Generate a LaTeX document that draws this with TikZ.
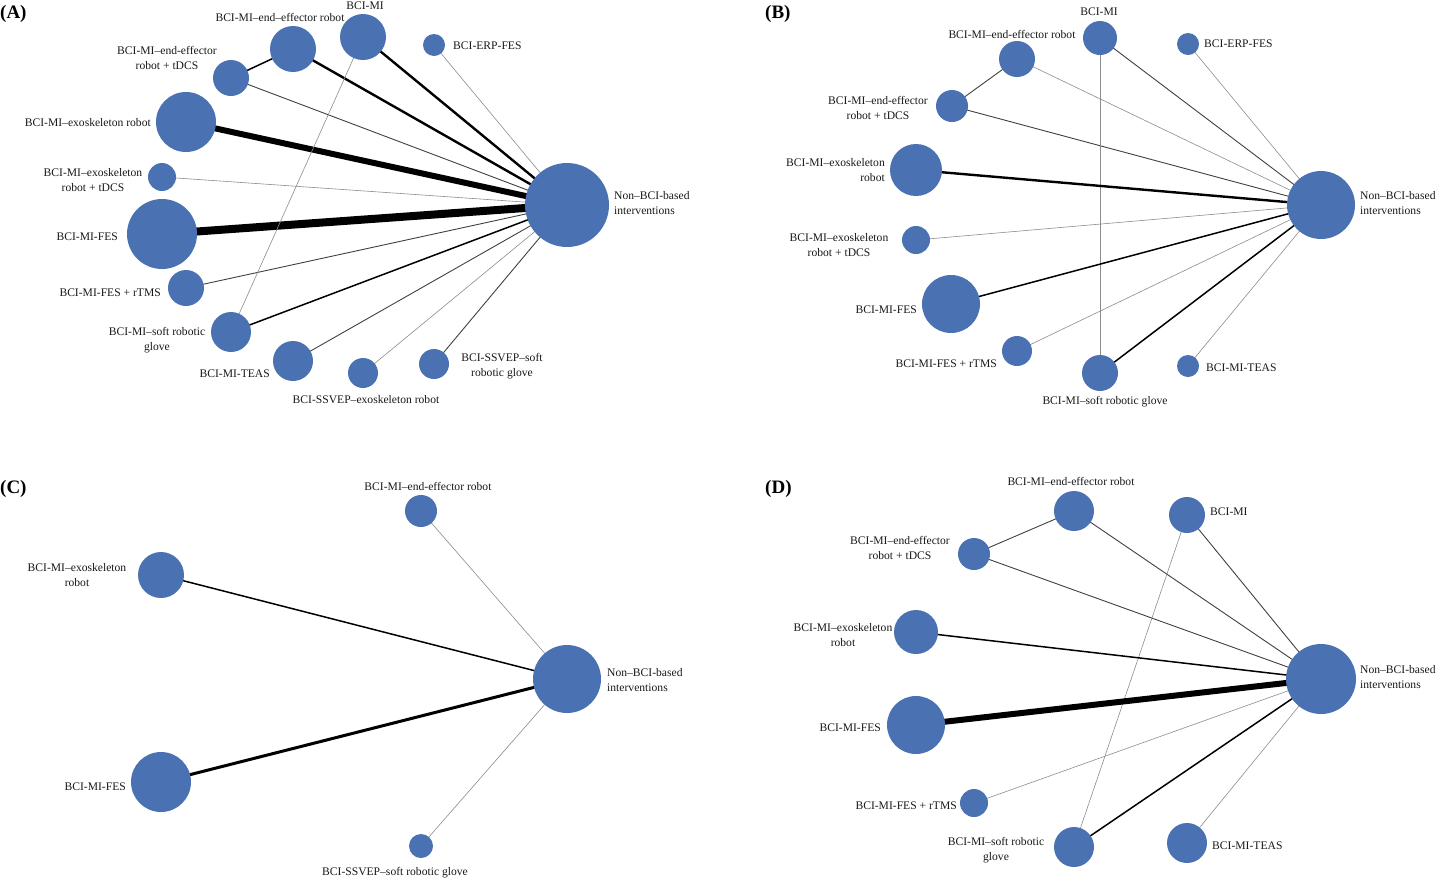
\documentclass[tikz,border=0pt]{standalone}
\usepackage{fontspec}
\setmainfont{Liberation Serif}
\usetikzlibrary{backgrounds}
\definecolor{nodeblue}{HTML}{4A72B2}
\tikzset{
  pt/.style={circle,fill=nodeblue,draw=none,inner sep=0pt},
  lbl/.style={inner sep=0pt,align=center,text=black!90,font=\fontsize{11.6}{14.5}\selectfont},
  panel/.style={inner sep=0pt,anchor=west,font=\fontsize{19}{22}\selectfont\bfseries},
  e0/.style={draw=black!45,line width=0.6pt},
  e1/.style={draw=black!75,line width=0.9pt},
  e2/.style={draw=black,line width=1.5pt},
  e3/.style={draw=black,line width=2.4pt},
  e4/.style={draw=black,line width=6pt},
  e5/.style={draw=black,line width=8pt}
}
\begin{document}
\begin{tikzpicture}[x=1pt,y=-1pt]
  \useasboundingbox (0,0) rectangle (1440,879);
  % panel A
  \node[panel] (pa) at (0,14) {(A)};
  \node[pt,minimum size=84pt] (aNB) at (567,205) {};
  \node[pt,minimum size=46pt] (aMI) at (363,37) {};
  \node[pt,minimum size=46pt] (aEE) at (293,49) {};
  \node[pt,minimum size=36pt] (aEET) at (231,78) {};
  \node[pt,minimum size=60pt] (aEXO) at (186,122) {};
  \node[pt,minimum size=28pt] (aEXOT) at (162,177) {};
  \node[pt,minimum size=70pt] (aFES) at (162,234) {};
  \node[pt,minimum size=36pt] (aFESR) at (186,288) {};
  \node[pt,minimum size=40pt] (aSRG) at (231,332) {};
  \node[pt,minimum size=40pt] (aTEAS) at (293,361) {};
  \node[pt,minimum size=30pt] (aSSEXO) at (363,373) {};
  \node[pt,minimum size=30pt] (aSSRG) at (434,364) {};
  \node[pt,minimum size=22pt] (aERP) at (434,45) {};
  \node[lbl] (aNBl) at (614,203) [anchor=west,align=left] {Non--BCI-based\\interventions};
  \node[lbl] (aMIl) at (365,6) {BCI-MI};
  \node[lbl] (aEEl) at (280,17) {BCI-MI--end--effector robot};
  \node[lbl] (aEETl) at (167,58) {BCI-MI--end-effector\\robot + tDCS};
  \node[lbl,anchor=east] (aEXOl) at (151,123) {BCI-MI--exoskeleton robot};
  \node[lbl] (aEXOTl) at (93,180) {BCI-MI--exoskeleton\\robot + tDCS};
  \node[lbl,anchor=east] (aFESl) at (118,237) {BCI-MI-FES};
  \node[lbl,anchor=east] (aFESRl) at (161,293) {BCI-MI-FES + rTMS};
  \node[lbl] (aSRGl) at (157,340) {BCI-MI--soft robotic\\glove};
  \node[lbl,anchor=east] (aTEASl) at (270,374) {BCI-MI-TEAS};
  \node[lbl] (aSSEXOl) at (366,400) {BCI-SSVEP--exoskeleton robot};
  \node[lbl] (aSSRGl) at (502,366) {BCI-SSVEP--soft\\robotic glove};
  \node[lbl,anchor=west] (aERPl) at (453,46) {BCI-ERP-FES};
  \begin{pgfonlayer}{background}
    \draw[e5] (aFES.center) -- (aNB.center);
    \draw[e4] (aEXO.center) -- (aNB.center);
    \draw[e3] (aEE.center) -- (aNB.center);
    \draw[e3] (aMI.center) -- (aNB.center);
    \draw[e2] (aEET.center) -- (aEE.center);
    \draw[e1] (aEET.center) -- (aNB.center);
    \draw[e0] (aEXOT.center) -- (aNB.center);
    \draw[e1] (aFESR.center) -- (aNB.center);
    \draw[e2] (aSRG.center) -- (aNB.center);
    \draw[e0] (aSRG.center) -- (aMI.center);
    \draw[e1] (aTEAS.center) -- (aNB.center);
    \draw[e0] (aSSEXO.center) -- (aNB.center);
    \draw[e1] (aSSRG.center) -- (aNB.center);
    \draw[e0] (aERP.center) -- (aNB.center);
  \end{pgfonlayer}
  % panel B
  \node[panel] (pb) at (765,14) {(B)};
  \node[pt,minimum size=68pt] (bNB) at (1321,205) {};
  \node[pt,minimum size=34pt] (bMI) at (1100,38) {};
  \node[pt,minimum size=36pt] (bEE) at (1017,59) {};
  \node[pt,minimum size=32pt] (bEET) at (952,106) {};
  \node[pt,minimum size=52pt] (bEXO) at (916,170) {};
  \node[pt,minimum size=28pt] (bEXOT) at (916,240) {};
  \node[pt,minimum size=58pt] (bFES) at (951,304) {};
  \node[pt,minimum size=30pt] (bFESR) at (1017,351) {};
  \node[pt,minimum size=36pt] (bSRG) at (1100,373) {};
  \node[pt,minimum size=22pt] (bTEAS) at (1188,366) {};
  \node[pt,minimum size=22pt] (bERP) at (1188,44) {};
  \node[lbl] (bNBl) at (1360,203) [anchor=west,align=left] {Non--BCI-based\\interventions};
  \node[lbl] (bMIl) at (1099,12) {BCI-MI};
  \node[lbl] (bEEl) at (1012,34) {BCI-MI--end-effector robot};
  \node[lbl] (bEETl) at (878,108) {BCI-MI--end-effector\\robot + tDCS};
  \node[lbl,anchor=east,align=right] (bEXOl) at (885,170) {BCI-MI--exoskeleton\\robot};
  \node[lbl] (bEXOTl) at (839,245) {BCI-MI--exoskeleton\\robot + tDCS};
  \node[lbl,anchor=east] (bFESl) at (917,310) {BCI-MI-FES};
  \node[lbl,anchor=east] (bFESRl) at (997,364) {BCI-MI-FES + rTMS};
  \node[lbl] (bSRGl) at (1105,402) {BCI-MI--soft robotic glove};
  \node[lbl,anchor=west] (bTEASl) at (1206,368) {BCI-MI-TEAS};
  \node[lbl,anchor=west] (bERPl) at (1204,44) {BCI-ERP-FES};
  \begin{pgfonlayer}{background}
    \draw[e1] (bEE.center) -- (bEET.center);
    \draw[e0] (bEE.center) -- (bNB.center);
    \draw[e1] (bEET.center) -- (bNB.center);
    \draw[e1] (bMI.center) -- (bNB.center);
    \draw[e0] (bERP.center) -- (bNB.center);
    \draw[e0] (bMI.center) -- (bSRG.center);
    \draw[e3] (bEXO.center) -- (bNB.center);
    \draw[e0] (bEXOT.center) -- (bNB.center);
    \draw[e2] (bFES.center) -- (bNB.center);
    \draw[e0] (bFESR.center) -- (bNB.center);
    \draw[e2] (bSRG.center) -- (bNB.center);
    \draw[e0] (bTEAS.center) -- (bNB.center);
  \end{pgfonlayer}
  % panel C
  \node[panel] (pc) at (0,489) {(C)};
  \node[pt,minimum size=68pt] (cNB) at (567,679) {};
  \node[pt,minimum size=32pt] (cEE) at (421,511) {};
  \node[pt,minimum size=46pt] (cEXO) at (161,575) {};
  \node[pt,minimum size=60pt] (cFES) at (161,782) {};
  \node[pt,minimum size=24pt] (cSSRG) at (421,846) {};
  \node[lbl] (cNBl) at (607,680) [anchor=west,align=left] {Non--BCI-based\\interventions};
  \node[lbl] (cEEl) at (428,486) {BCI-MI--end-effector robot};
  \node[lbl] (cEXOl) at (77,575) {BCI-MI--exoskeleton\\robot};
  \node[lbl,anchor=east] (cFESl) at (126,787) {BCI-MI-FES};
  \node[lbl] (cSSRGl) at (395,873) {BCI-SSVEP--soft robotic glove};
  \begin{pgfonlayer}{background}
    \draw[e0] (cEE.center) -- (cNB.center);
    \draw[e2] (cEXO.center) -- (cNB.center);
    \draw[e3,line width=3pt] (cFES.center) -- (cNB.center);
    \draw[e0] (cSSRG.center) -- (cNB.center);
  \end{pgfonlayer}
  % panel D
  \node[panel] (pd) at (765,489) {(D)};
  \node[pt,minimum size=70pt] (dNB) at (1321,679) {};
  \node[pt,minimum size=40pt] (dEE) at (1074,511) {};
  \node[pt,minimum size=36pt] (dMI) at (1187,515) {};
  \node[pt,minimum size=32pt] (dEET) at (974,554) {};
  \node[pt,minimum size=44pt] (dEXO) at (916,632) {};
  \node[pt,minimum size=58pt] (dFES) at (916,725) {};
  \node[pt,minimum size=28pt] (dFESR) at (974,803) {};
  \node[pt,minimum size=40pt] (dSRG) at (1074,847) {};
  \node[pt,minimum size=40pt] (dTEAS) at (1187,843) {};
  \node[lbl] (dNBl) at (1360,677) [anchor=west,align=left] {Non--BCI-based\\interventions};
  \node[lbl] (dEEl) at (1071,481) {BCI-MI--end-effector robot};
  \node[lbl,anchor=west] (dMIl) at (1210,512) {BCI-MI};
  \node[lbl] (dEETl) at (900,548) {BCI-MI--end-effector\\robot + tDCS};
  \node[lbl] (dEXOl) at (843,635) {BCI-MI--exoskeleton\\robot};
  \node[lbl,anchor=east] (dFESl) at (881,728) {BCI-MI-FES};
  \node[lbl,anchor=east] (dFESRl) at (957,806) {BCI-MI-FES + rTMS};
  \node[lbl] (dSRGl) at (996,850) {BCI-MI--soft robotic\\glove};
  \node[lbl,anchor=west] (dTEASl) at (1212,846) {BCI-MI-TEAS};
  \begin{pgfonlayer}{background}
    \draw[e1] (dEE.center) -- (dEET.center);
    \draw[e1] (dEE.center) -- (dNB.center);
    \draw[e1] (dEET.center) -- (dNB.center);
    \draw[e1] (dMI.center) -- (dNB.center);
    \draw[e0] (dMI.center) -- (dSRG.center);
    \draw[e2] (dEXO.center) -- (dNB.center);
    \draw[e4] (dFES.center) -- (dNB.center);
    \draw[e0] (dFESR.center) -- (dNB.center);
    \draw[e2] (dSRG.center) -- (dNB.center);
    \draw[e0] (dTEAS.center) -- (dNB.center);
  \end{pgfonlayer}
\end{tikzpicture}
\end{document}
